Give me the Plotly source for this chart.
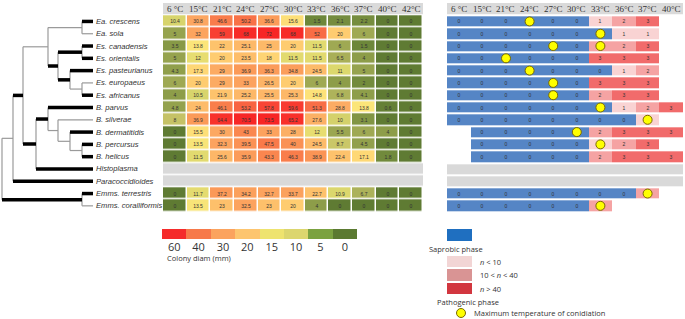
import plotly.graph_objects as go

W, H = 685, 319

rows = ["Ea. crescens", "Ea. sola", "Es. canadensis", "Es. orientalis", "Es. pasteurianus",
        "Es. europaeus", "Es. africanus", "B. parvus", "B. silverae", "B. dermatitidis",
        "B. percursus", "B. helicus", "Histoplasma", "Paracoccidioides",
        "Emms. terrestris", "Emms. coralliformis"]

left_cols = ["6 °C", "15°C", "21°C", "24°C", "27°C", "30°C", "33°C", "36°C", "37°C", "40°C", "42°C"]
right_cols = left_cols[:10]

# colony diameter (mm); None = not tested (grey rows)
diam = [
    [10.4, 30.8, 46.6, 50.2, 36.6, 15.6, 1.5, 2.1, 2.2, 0, 0],
    [5, 32, 59, 68, 72, 68, 52, 20, 6, 0, 0],
    [3.5, 13.8, 22, 25.1, 25, 20, 11.5, 6, 1.5, 0, 0],
    [5, 12, 20, 23.5, 18, 11.5, 11.5, 6.5, 4, 0, 0],
    [4.3, 17.3, 29, 36.9, 36.3, 34.8, 24.5, 11, 5, 0, 0],
    [6, 20, 29, 33, 26.5, 20, 6, 4, 2, 0, 0],
    [4, 10.5, 21.9, 25.2, 25.5, 25.3, 14.8, 6.8, 4.1, 0, 0],
    [4.8, 24, 46.1, 53.2, 57.8, 59.6, 51.3, 28.8, 13.8, 0.6, 0],
    [8, 36.9, 64.4, 70.5, 73.5, 65.2, 27.6, 10, 3.1, 0, 0],
    [0, 15.5, 30, 43, 33, 28, 12, 5.5, 6, 4, 0],
    [0, 13.5, 32.3, 39.5, 47.5, 40, 24.5, 8.7, 4.5, 0, 0],
    [0, 11.5, 25.6, 35.9, 43.3, 46.3, 38.9, 22.4, 17.1, 1.8, 0],
    None,
    None,
    [0, 11.7, 37.2, 34.2, 32.7, 33.7, 22.7, 10.9, 6.7, 0, 0],
    [0, 13.5, 23, 32.5, 23, 20, 4, 0, 0, 0, 0],
]

# yeast-phase score: 0 saprobic, 1 n<10, 2 10<n<40, 3 n>40 ; None = not tested
phase = [
    [0, 0, 0, 0, 0, 0, 1, 2, 3, None],
    [0, 0, 0, 0, 0, 0, 0, 1, 1, None],
    [0, 0, 0, 0, 0, 0, 2, 2, 3, None],
    [0, 0, 0, 0, 0, 0, 3, 3, 3, None],
    [0, 0, 0, 0, 0, 0, 0, 1, 2, None],
    [0, 0, 0, 0, 0, 0, 3, 3, 3, None],
    [0, 0, 0, 0, 0, 0, 2, 3, 3, None],
    [0, 0, 0, 0, 0, 0, 0, 1, 2, 3],
    [0, 0, 0, 0, 0, 0, 0, 0, 1, None],
    [None, 0, 0, 0, 0, 0, 2, 3, 3, 3],
    [None, 0, 0, 0, 0, 0, 1, 2, 3, None],
    [None, 0, 0, 0, 0, 0, 2, 3, 3, 3],
    None,
    None,
    [0, 0, 0, 0, 0, 0, 0, 0, 2, None],
    [0, 0, 0, 0, 0, 0, 2, None, None, None],
]

# maximum temperature of conidiation (row, column label)
conid_rows = ["Ea. crescens", "Ea. sola", "Es. canadensis", "Es. canadensis", "Es. orientalis",
              "Es. pasteurianus", "Es. europaeus", "Es. africanus", "B. parvus", "B. silverae",
              "B. dermatitidis", "B. percursus", "Emms. terrestris", "Emms. coralliformis"]
conid_cols = ["24°C", "33°C", "27°C", "33°C", "21°C", "24°C", "27°C", "27°C", "33°C", "37°C",
              "30°C", "33°C", "37°C", "33°C"]

legend_vals = ["60", "40", "30", "20", "15", "10", "5", "0"]
legend_colors = ["#f52b2b", "#f7794a", "#fba35e", "#fdc56f", "#eee36f", "#dcd66e", "#7ba240", "#5b7a31"]

# phylogeny: children, branch lengths, bold branches
tree_children = {
    "root": ["N13", "Emms"],
    "N13": ["G", "Paracoccidioides"],
    "G": ["F", "BH"],
    "F": ["A", "E"],
    "A": ["Ea. crescens", "Ea. sola"],
    "E": ["Bes", "D"],
    "Bes": ["Es. canadensis", "Es. orientalis"],
    "D": ["Es. pasteurianus", "C"],
    "C": ["Es. europaeus", "Es. africanus"],
    "BH": ["Bl", "Histoplasma"],
    "Bl": ["B. parvus", "SDPH"],
    "SDPH": ["B. silverae", "DPH"],
    "DPH": ["B. dermatitidis", "PH"],
    "PH": ["B. percursus", "B. helicus"],
    "Emms": ["Emms. terrestris", "Emms. coralliformis"],
}
branch_len = {
    "root": 2, "N13": 11, "Emms": 80, "G": 10, "Paracoccidioides": 80, "F": 25, "BH": 13,
    "A": 34, "E": 10, "Ea. crescens": 11, "Ea. sola": 11, "Bes": 24, "D": 12,
    "Es. canadensis": 11, "Es. orientalis": 11, "Es. pasteurianus": 23, "C": 12,
    "Es. europaeus": 11, "Es. africanus": 11, "Bl": 12, "Histoplasma": 57,
    "B. parvus": 45, "SDPH": 10, "B. silverae": 35, "DPH": 12, "B. dermatitidis": 23,
    "PH": 12, "B. percursus": 11, "B. helicus": 11,
    "Emms. terrestris": 11, "Emms. coralliformis": 11,
}
thick = {"Ea. crescens", "Es. canadensis", "Es. orientalis", "Bes", "Es. pasteurianus",
         "Es. africanus", "D", "E", "G", "B. parvus", "B. dermatitidis", "B. percursus",
         "B. helicus", "Bl", "Histoplasma", "BH", "Paracoccidioides", "Emms",
         "Emms. terrestris"}

# ---------------- figure ----------------
fig = go.Figure()

def px_x(p):
    return p / W

def px_y(p):
    return 1 - p / H

ydom = [px_y(212), px_y(3)]
yrange = [15.5, -1.5]

# tree layout
pos = {}

def place(node, x0):
    x = x0 + branch_len[node]
    if node in tree_children:
        for c in tree_children[node]:
            place(c, x)
        ys = [pos[c][1] for c in tree_children[node]]
        y = (ys[0] + ys[-1]) / 2
    else:
        y = rows.index(node)
    pos[node] = (x, y)

place("root", 0)
thin_x, thin_y, thk_x, thk_y = [], [], [], []
for parent, kids in tree_children.items():
    px_, py_ = pos[parent]
    thin_x += [px_, px_, None]
    thin_y += [pos[kids[0]][1], pos[kids[-1]][1], None]
    for k in kids:
        kx, ky = pos[k]
        if k in thick:
            thk_x += [px_, kx, None]
            thk_y += [ky, ky, None]
        else:
            thin_x += [px_, kx, None]
            thin_y += [ky, ky, None]

fig.add_trace(go.Scatter(x=thin_x, y=thin_y, mode="lines", line=dict(color="#9a9a9a", width=1.2),
                         xaxis="x", yaxis="y", hoverinfo="skip", showlegend=False))
fig.add_trace(go.Scatter(x=thk_x, y=thk_y, mode="lines", line=dict(color="#000000", width=3.5),
                         xaxis="x", yaxis="y", hoverinfo="skip", showlegend=False))

shapes = []
annotations = []

for r in rows:
    annotations.append(dict(x=pos[r][0] + 1, y=rows.index(r), xref="x", yref="y",
                            text="<i>%s</i>" % r, showarrow=False, xanchor="left", yanchor="middle",
                            font=dict(family="Liberation Sans, Arial", size=7.6, color="#333333")))

# left heatmap
diam_scale = [
    [0, "#5f7b33"], [1.5 / 75, "#6d873a"], [4 / 75, "#8d9d49"], [6 / 75, "#9fa953"],
    [8 / 75, "#c5c266"], [11 / 75, "#dcd86d"], [14 / 75, "#fde67a"], [18 / 75, "#fed474"],
    [22 / 75, "#fdc36c"], [30 / 75, "#fca862"], [37 / 75, "#fb9a58"], [47 / 75, "#f97b4a"],
    [52 / 75, "#f86c45"], [60 / 75, "#f8382f"], [72 / 75, "#f72525"], [1, "#f72525"],
]
zL = [r if r is not None else [None] * len(left_cols) for r in diam]
tL = [["%g" % v for v in r] if r is not None else [""] * len(left_cols) for r in diam]
fig.add_trace(go.Heatmap(z=zL, x=list(range(len(left_cols))), y=list(range(len(rows))),
                         text=tL, texttemplate="%{text}",
                         textfont=dict(size=5, color="#333333", family="Liberation Sans"),
                         colorscale=diam_scale, zmin=0, zmax=75, showscale=False,
                         xgap=1.5, ygap=1.5, xaxis="x2", yaxis="y2", hoverinfo="skip"))
greyL = [[1] * len(left_cols) if r is None else [None] * len(left_cols) for r in diam]
fig.add_trace(go.Heatmap(z=greyL, x=list(range(len(left_cols))), y=list(range(len(rows))),
                         colorscale=[[0, "#d9d9d9"], [1, "#d9d9d9"]], showscale=False,
                         xgap=0, ygap=1.5, xaxis="x2", yaxis="y2", hoverinfo="skip"))

# right panel
phase_scale = [
    [0, "#5585c5"], [0.25, "#5585c5"], [0.25, "#f9d3d3"], [0.5, "#f9d3d3"],
    [0.5, "#f5a3a3"], [0.75, "#f5a3a3"], [0.75, "#f16b6b"], [1, "#f16b6b"],
]
zR = [r if r is not None else [None] * len(right_cols) for r in phase]
tR = [["" if v is None else "%g" % v for v in r] if r is not None else [""] * len(right_cols) for r in phase]
fig.add_trace(go.Heatmap(z=zR, x=list(range(len(right_cols))), y=list(range(len(rows))),
                         text=tR, texttemplate="%{text}",
                         textfont=dict(size=5, color="#333333", family="Liberation Sans"),
                         colorscale=phase_scale, zmin=-0.5, zmax=3.5, showscale=False,
                         xgap=0, ygap=2, xaxis="x3", yaxis="y3", hoverinfo="skip"))
greyR = [[1] * len(right_cols) if r is None else [None] * len(right_cols) for r in phase]
fig.add_trace(go.Heatmap(z=greyR, x=list(range(len(right_cols))), y=list(range(len(rows))),
                         colorscale=[[0, "#d9d9d9"], [1, "#d9d9d9"]], showscale=False,
                         xgap=0, ygap=2, xaxis="x3", yaxis="y3", hoverinfo="skip"))
fig.add_trace(go.Scatter(x=[right_cols.index(c) for c in conid_cols],
                         y=[rows.index(r) for r in conid_rows], mode="markers",
                         marker=dict(size=9, color="#ffff00", line=dict(color="#7a6a00", width=1)),
                         xaxis="x3", yaxis="y3", hoverinfo="skip", showlegend=False))

# colony diameter legend bar
fig.add_trace(go.Heatmap(z=[list(range(len(legend_vals)))], x=list(range(len(legend_vals))), y=[0],
                         colorscale=[[i / (len(legend_colors) - 1), c] for i, c in enumerate(legend_colors)],
                         zmin=0, zmax=len(legend_vals) - 1, showscale=False, xgap=0,
                         xaxis="x4", yaxis="y4", hoverinfo="skip"))

# header bands
for xa, ya, cols in (("x2", "y2", left_cols), ("x3", "y3", right_cols)):
    shapes.append(dict(type="rect", xref=xa, yref=ya, x0=-0.5, x1=len(cols) - 0.5,
                       y0=-1.5, y1=-0.58, fillcolor="#dadada", line=dict(width=0), layer="below"))
    for i, c in enumerate(cols):
        annotations.append(dict(x=i, y=-1.04, xref=xa, yref=ya, text=c, showarrow=False,
                                font=dict(family="Liberation Serif, Times New Roman", size=9, color="#333333")))

annotations.append(dict(x=px_x(165), y=px_y(258), xref="paper", yref="paper", text="Colony diam (mm)",
                        showarrow=False, xanchor="left", yanchor="middle",
                        font=dict(family="Open Sans, Noto Sans", size=7.5, color="#333333")))

# phase legend
shapes.append(dict(type="rect", xref="paper", yref="paper", x0=px_x(447), x1=px_x(472),
                   y0=px_y(241), y1=px_y(229), fillcolor="#1f6fc0", line=dict(width=0)))
annotations.append(dict(x=px_x(427), y=px_y(249), xref="paper", yref="paper", text="Saprobic phase",
                        showarrow=False, xanchor="left", yanchor="middle",
                        font=dict(family="Open Sans, Noto Sans", size=7.5, color="#333333")))
sw = [("#f2d5d5", 256, 267, "<i>n</i> < 10"), ("#d99494", 269, 281, "10 < <i>n</i> < 40"),
      ("#d2363f", 283, 294, "<i>n</i> > 40")]
for col, y0, y1, lab in sw:
    shapes.append(dict(type="rect", xref="paper", yref="paper", x0=px_x(447), x1=px_x(472),
                       y0=px_y(y1), y1=px_y(y0), fillcolor=col, line=dict(width=0)))
    annotations.append(dict(x=px_x(478), y=px_y((y0 + y1) / 2), xref="paper", yref="paper", text=lab,
                            showarrow=False, xanchor="left", yanchor="middle",
                            font=dict(family="Open Sans, Noto Sans", size=7.5, color="#333333")))
annotations.append(dict(x=px_x(435), y=px_y(302), xref="paper", yref="paper", text="Pathogenic phase",
                        showarrow=False, xanchor="left", yanchor="middle",
                        font=dict(family="Open Sans, Noto Sans", size=7.5, color="#333333")))
shapes.append(dict(type="circle", xref="paper", yref="paper", x0=px_x(456.5), x1=px_x(465.5),
                   y0=px_y(317.5), y1=px_y(308.5), fillcolor="#ffff00", line=dict(color="#7a6a00", width=1)))
annotations.append(dict(x=px_x(472), y=px_y(313), xref="paper", yref="paper",
                        text="Maximum temperature of conidiation",
                        showarrow=False, xanchor="left", yanchor="middle",
                        font=dict(family="Open Sans, Noto Sans", size=7.5, color="#333333")))

hidden = dict(visible=False, showgrid=False, zeroline=False)
fig.update_layout(
    width=W, height=H, margin=dict(l=0, r=0, t=0, b=0),
    paper_bgcolor="white", plot_bgcolor="white", showlegend=False,
    xaxis=dict(domain=[0, px_x(162)], range=[0, 162], **hidden),
    yaxis=dict(domain=ydom, range=yrange, **hidden),
    xaxis2=dict(domain=[px_x(163), px_x(423)], range=[-0.5, len(left_cols) - 0.5], anchor="y2", **hidden),
    yaxis2=dict(domain=ydom, range=yrange, anchor="x2", **hidden),
    xaxis3=dict(domain=[px_x(447), px_x(683)], range=[-0.5, len(right_cols) - 0.5], anchor="y3", **hidden),
    yaxis3=dict(domain=ydom, range=yrange, anchor="x3", **hidden),
    xaxis4=dict(domain=[px_x(162), px_x(357)], range=[-0.5, len(legend_vals) - 0.5], anchor="y4",
                tickmode="array", tickvals=list(range(len(legend_vals))), ticktext=legend_vals,
                showgrid=False, zeroline=False, showline=False, ticks="",
                tickfont=dict(family="Open Sans, Noto Sans", size=11, color="#333333")),
    yaxis4=dict(domain=[px_y(239), px_y(229)], range=[-0.5, 0.5], anchor="x4", **hidden),
    shapes=shapes, annotations=annotations,
)

fig.write_html("out.html", config={"displayModeBar": False},
               post_script="document.body.style.margin='0';document.body.style.overflow='hidden';")
